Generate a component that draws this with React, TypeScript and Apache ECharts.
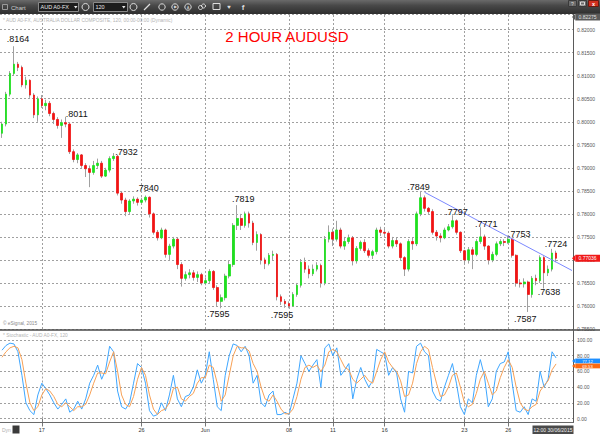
import React, { useEffect, useRef } from 'react';
import * as echarts from 'echarts';

// ---------- DATA ----------
const opens = [
  0.7975, 0.7995, 0.8060, 0.8105, 0.8125, 0.8118, 0.8080, 0.8090, 0.8058, 0.8015,
  0.8050, 0.8035, 0.8040, 0.8018, 0.8005, 0.7992, 0.7998, 0.7995, 0.7935, 0.7918,
  0.7928, 0.7905, 0.7898, 0.7890, 0.7905, 0.7910, 0.7882, 0.7895, 0.7920, 0.7925,
  0.7845, 0.7830, 0.7805, 0.7828, 0.7832, 0.7825, 0.7830, 0.7836, 0.7800, 0.7760,
  0.7748, 0.7765, 0.7712, 0.7730, 0.7745, 0.7690, 0.7660, 0.7668, 0.7672, 0.7662,
  0.7668, 0.7650, 0.7655, 0.7675, 0.7640, 0.7610, 0.7618, 0.7665, 0.7690, 0.7775,
  0.7790, 0.7775, 0.7800, 0.7780, 0.7738, 0.7755, 0.7700, 0.7692, 0.7710, 0.7712,
  0.7620, 0.7610, 0.7605, 0.7600, 0.7625, 0.7645, 0.7695, 0.7680, 0.7670, 0.7680,
  0.7688, 0.7650, 0.7745, 0.7760, 0.7745, 0.7765, 0.7730, 0.7740, 0.7748, 0.7698,
  0.7725, 0.7738, 0.7720, 0.7710, 0.7718, 0.7765, 0.7760, 0.7758, 0.7730, 0.7742,
  0.7735, 0.7705, 0.7680, 0.7740, 0.7735, 0.7800, 0.7835, 0.7812, 0.7805, 0.7760,
  0.7752, 0.7748, 0.7765, 0.7772, 0.7785, 0.7760, 0.7720, 0.7700, 0.7722, 0.7712,
  0.7740, 0.7750, 0.7730, 0.7700, 0.7712, 0.7735, 0.7740, 0.7738, 0.7745, 0.7710,
  0.7650, 0.7648, 0.7652, 0.7625, 0.7660, 0.7655, 0.7705, 0.7672, 0.7680, 0.7715,
];
const closes = [
  0.7995, 0.8060, 0.8105, 0.8125, 0.8118, 0.8080, 0.8090, 0.8058, 0.8015, 0.8050,
  0.8035, 0.8040, 0.8018, 0.8005, 0.7992, 0.7998, 0.7995, 0.7935, 0.7918, 0.7928,
  0.7905, 0.7898, 0.7890, 0.7905, 0.7910, 0.7882, 0.7895, 0.7920, 0.7925, 0.7845,
  0.7830, 0.7805, 0.7828, 0.7832, 0.7825, 0.7830, 0.7836, 0.7800, 0.7760, 0.7748,
  0.7765, 0.7712, 0.7730, 0.7745, 0.7690, 0.7660, 0.7668, 0.7672, 0.7662, 0.7668,
  0.7650, 0.7655, 0.7675, 0.7640, 0.7610, 0.7618, 0.7665, 0.7690, 0.7775, 0.7790,
  0.7775, 0.7800, 0.7780, 0.7738, 0.7755, 0.7700, 0.7692, 0.7710, 0.7712, 0.7620,
  0.7610, 0.7605, 0.7600, 0.7625, 0.7645, 0.7695, 0.7680, 0.7670, 0.7680, 0.7688,
  0.7650, 0.7745, 0.7760, 0.7745, 0.7765, 0.7730, 0.7740, 0.7748, 0.7698, 0.7725,
  0.7738, 0.7720, 0.7710, 0.7718, 0.7765, 0.7760, 0.7758, 0.7730, 0.7742, 0.7735,
  0.7705, 0.7680, 0.7740, 0.7735, 0.7800, 0.7835, 0.7812, 0.7805, 0.7760, 0.7752,
  0.7748, 0.7765, 0.7772, 0.7785, 0.7760, 0.7720, 0.7700, 0.7722, 0.7712, 0.7740,
  0.7750, 0.7730, 0.7700, 0.7712, 0.7735, 0.7740, 0.7738, 0.7745, 0.7710, 0.7650,
  0.7648, 0.7652, 0.7625, 0.7660, 0.7655, 0.7705, 0.7672, 0.7680, 0.7715, 0.77036,
];
const highs = [
  0.8000, 0.8065, 0.8110, 0.8164, 0.8130, 0.8122, 0.8098, 0.8092, 0.8062, 0.8055,
  0.8058, 0.8048, 0.8045, 0.8022, 0.8010, 0.8005, 0.8011, 0.7998, 0.7940, 0.7932,
  0.7930, 0.7910, 0.7905, 0.7915, 0.7920, 0.7915, 0.7900, 0.7925, 0.7932, 0.7928,
  0.7848, 0.7835, 0.7832, 0.7838, 0.7836, 0.7835, 0.7840, 0.7838, 0.7803, 0.7765,
  0.7770, 0.7768, 0.7735, 0.7750, 0.7748, 0.7695, 0.7675, 0.7680, 0.7678, 0.7675,
  0.7672, 0.7662, 0.7680, 0.7678, 0.7645, 0.7625, 0.7670, 0.7698, 0.7780, 0.7819,
  0.7800, 0.7805, 0.7805, 0.7785, 0.7762, 0.7758, 0.7705, 0.7715, 0.7720, 0.7715,
  0.7625, 0.7615, 0.7610, 0.7630, 0.7650, 0.7702, 0.7705, 0.7688, 0.7690, 0.7695,
  0.7692, 0.7752, 0.7775, 0.7768, 0.7785, 0.7770, 0.7750, 0.7755, 0.7752, 0.7730,
  0.7742, 0.7745, 0.7725, 0.7722, 0.7770, 0.7772, 0.7768, 0.7762, 0.7750, 0.7748,
  0.7738, 0.7708, 0.7745, 0.7748, 0.7805, 0.7849, 0.7840, 0.7815, 0.7810, 0.7765,
  0.7758, 0.7770, 0.7778, 0.7797, 0.7788, 0.7762, 0.7722, 0.7728, 0.7728, 0.7745,
  0.7771, 0.7755, 0.7732, 0.7718, 0.7740, 0.7745, 0.7745, 0.7753, 0.7748, 0.7712,
  0.7658, 0.7660, 0.7655, 0.7665, 0.7668, 0.7710, 0.7708, 0.7688, 0.7724, 0.7720,
];
const lows = [
  0.7965, 0.7990, 0.8055, 0.8100, 0.8110, 0.8075, 0.8072, 0.8052, 0.8008, 0.8000,
  0.8030, 0.8025, 0.8012, 0.7995, 0.7985, 0.7965, 0.7988, 0.7930, 0.7912, 0.7910,
  0.7900, 0.7880, 0.7858, 0.7885, 0.7900, 0.7878, 0.7880, 0.7890, 0.7915, 0.7840,
  0.7822, 0.7795, 0.7800, 0.7822, 0.7818, 0.7820, 0.7825, 0.7792, 0.7755, 0.7742,
  0.7745, 0.7705, 0.7700, 0.7725, 0.7680, 0.7642, 0.7655, 0.7660, 0.7655, 0.7652,
  0.7645, 0.7645, 0.7650, 0.7635, 0.7600, 0.7595, 0.7612, 0.7660, 0.7685, 0.7765,
  0.7765, 0.7770, 0.7770, 0.7732, 0.7720, 0.7690, 0.7680, 0.7688, 0.7700, 0.7612,
  0.7602, 0.7596, 0.7595, 0.7598, 0.7620, 0.7640, 0.7672, 0.7660, 0.7665, 0.7675,
  0.7640, 0.7645, 0.7738, 0.7730, 0.7740, 0.7725, 0.7722, 0.7735, 0.7688, 0.7692,
  0.7720, 0.7715, 0.7705, 0.7702, 0.7712, 0.7752, 0.7748, 0.7725, 0.7725, 0.7728,
  0.7698, 0.7665, 0.7675, 0.7722, 0.7730, 0.7795, 0.7805, 0.7800, 0.7755, 0.7742,
  0.7738, 0.7745, 0.7762, 0.7768, 0.7755, 0.7715, 0.7690, 0.7692, 0.7680, 0.7708,
  0.7735, 0.7722, 0.7690, 0.7695, 0.7708, 0.7730, 0.7730, 0.7735, 0.7705, 0.7642,
  0.7640, 0.7640, 0.7587, 0.7618, 0.7645, 0.7650, 0.7638, 0.7665, 0.7675, 0.7695,
];
const stochK = [
  87, 93, 96, 95, 85, 55, 20, 10, 5, 30,
  45, 38, 30, 20, 12, 18, 25, 8, 12, 22,
  12, 25, 45, 55, 68, 50, 62, 92, 85, 35,
  15, 12, 20, 45, 70, 65, 45, 10, 3, 5,
  20, 10, 30, 55, 25, 15, 28, 30, 40, 62,
  45, 55, 85, 50, 15, 10, 55, 80, 95, 93,
  85, 92, 80, 45, 55, 20, 15, 30, 35, 5,
  5, 8, 5, 25, 45, 80, 70, 60, 68, 75,
  40, 90, 95, 80, 90, 55, 62, 70, 25, 50,
  65, 50, 40, 48, 88, 85, 82, 55, 65, 58,
  25, 8, 60, 58, 92, 96, 85, 80, 35, 25,
  22, 40, 55, 70, 45, 15, 5, 25, 20, 55,
  75, 55, 15, 25, 60, 70, 72, 85, 45, 10,
  8, 15, 5, 25, 22, 60, 40, 50, 85, 77.12,
];
const stochD = [
  78, 85, 90, 92, 90, 75, 45, 20, 10, 15,
  30, 38, 35, 28, 18, 15, 20, 15, 10, 15,
  15, 18, 30, 45, 58, 58, 57, 72, 85, 60,
  30, 18, 15, 28, 50, 65, 55, 30, 12, 5,
  10, 12, 20, 38, 40, 25, 22, 28, 32, 45,
  52, 52, 68, 65, 45, 22, 30, 55, 80, 92,
  90, 90, 86, 70, 60, 40, 25, 22, 30, 22,
  12, 6, 6, 12, 28, 50, 65, 68, 65, 68,
  60, 68, 85, 88, 85, 75, 65, 62, 50, 45,
  50, 55, 48, 45, 60, 75, 85, 72, 65, 60,
  48, 28, 30, 45, 70, 85, 92, 88, 65, 45,
  28, 30, 40, 55, 58, 40, 20, 15, 18, 32,
  50, 60, 45, 30, 35, 52, 65, 75, 65, 40,
  20, 12, 10, 15, 18, 35, 42, 48, 62, 69.53,
];
const TOTAL_SLOTS = 144;
const dateTicks = [
  { idx: 10, label: '17' },
  { idx: 35, label: '26' },
  { idx: 51, label: 'Jun' },
  { idx: 72, label: '08' },
  { idx: 83, label: '11' },
  { idx: 96, label: '16' },
  { idx: 116, label: '23' },
  { idx: 127, label: '26' },
];
const pivots = [
  { idx: 3, value: 0.8164 },
  { idx: 16, value: 0.8011 },
  { idx: 28, value: 0.7932 },
  { idx: 36, value: 0.7840 },
  { idx: 59, value: 0.7819 },
  { idx: 55, value: 0.7595 },
  { idx: 72, value: 0.7595 },
  { idx: 105, value: 0.7849 },
  { idx: 113, value: 0.7797 },
  { idx: 120, value: 0.7771 },
  { idx: 127, value: 0.7753 },
  { idx: 138, value: 0.7724 },
  { idx: 136, value: 0.7638 },
  { idx: 132, value: 0.7587 },
];
const trendLine = [
  { idx: 106, value: 0.7847 },
  { idx: 143, value: 0.7677 },
];
const lastPrice = 0.77036;
const topPrice = 0.82275;
const priceMin = 0.755;
const priceMax = 0.8234;
const titleText = '2 HOUR AUDUSD';
const infoText = '* AUD A0-FX, AUSTRALIA DOLLAR COMPOSITE, 120, 00:00-00:00 (Dynamic)';
const stochText = '* Stochastic - AUD A0-FX, 120';
const copyrightText = '\u00A9 eSignal, 2015';
const timestampText = '12:00 30/06/2015';

// ---------- STYLE ----------
const pivotOffsets: number[][] = [
  [4, -7], [11, -3], [13, -1], [2, -7], [6, -6], [-3, 6], [-7, 7],
  [-2, -4], [4, -3], [6, -3], [11, -2], [4, -5], [5, 4], [-3, 7],
];
const FONT = '"Liberation Sans", Arial, sans-serif';
const GREEN = '#1ee01e';
const RED = '#f01414';
const WICK = '#a0a0a0';
const GRIDC = '#a0a0a0';

const cats = Array.from({ length: TOTAL_SLOTS }, (_, i) => String(i));
const tickMap = new Map(dateTicks.map((t) => [t.idx, t.label]));

function buildOption(): any {
  const wickData = opens.map((o, i) => [o, closes[i], lows[i], highs[i]]);
  const bodyData = opens.map((o, i) => [
    o,
    closes[i],
    Math.min(o, closes[i]),
    Math.max(o, closes[i]),
  ]);
  const vLines = dateTicks.map((t) => ({ xAxis: String(t.idx) }));
  const dashed = { color: GRIDC, type: [2, 2], width: 1 };
  return {
    animation: false,
    backgroundColor: '#ffffff',
    textStyle: { fontFamily: FONT },
    grid: [
      { left: 0, right: 26, top: 14, height: 315 },
      { left: 0, right: 26, top: 340, height: 78.5 },
    ],
    xAxis: [
      {
        type: 'category', gridIndex: 0, data: cats, boundaryGap: true,
        axisLine: { show: false }, axisTick: { show: false },
        axisLabel: { show: false }, splitLine: { show: false },
      },
      {
        type: 'category', gridIndex: 1, data: cats, boundaryGap: true,
        axisLine: { show: false },
        axisTick: {
          show: true, alignWithLabel: true, length: 8,
          interval: (i: number) => tickMap.has(i),
          lineStyle: { color: '#777' },
        },
        axisLabel: {
          show: true, interval: (i: number) => tickMap.has(i),
          formatter: (_v: string, i: number) => tickMap.get(i) ?? '',
          fontSize: 5.5, color: '#333', margin: 8, fontFamily: FONT,
        },
        splitLine: { show: false },
      },
    ],
    yAxis: [
      {
        type: 'value', gridIndex: 0, position: 'right', min: priceMin, max: priceMax,
        interval: 0.005,
        axisLine: { show: false }, axisTick: { show: false },
        axisLabel: {
          fontSize: 5, color: '#555', margin: 3, fontFamily: FONT,
          formatter: (v: number) => {
            const k = Math.round(v / 0.005);
            return Math.abs(v - k * 0.005) < 1e-7 ? v.toFixed(5) : '';
          },
        },
        splitLine: { lineStyle: dashed },
      },
      {
        type: 'value', gridIndex: 1, position: 'right', min: 0, max: 100, interval: 20,
        axisLine: { show: false }, axisTick: { show: false },
        axisLabel: {
          fontSize: 5, color: '#555', margin: 3, fontFamily: FONT,
          formatter: (v: number) => v.toFixed(2),
        },
        splitLine: { lineStyle: dashed },
      },
    ],
    series: [
      {
        type: 'candlestick', xAxisIndex: 0, yAxisIndex: 0, data: wickData,
        barWidth: 1, z: 2,
        itemStyle: {
          color: WICK, color0: WICK, borderColor: WICK, borderColor0: WICK,
          borderColorDoji: WICK, borderWidth: 1,
        },
        markLine: {
          silent: true, z: 1, symbol: ['none', 'none'], label: { show: false },
          lineStyle: dashed, data: vLines,
        },
      },
      {
        type: 'candlestick', xAxisIndex: 0, yAxisIndex: 0, data: bodyData,
        barWidth: 2.2, z: 3,
        itemStyle: {
          color: GREEN, color0: RED, borderColor: GREEN, borderColor0: RED,
          borderColorDoji: RED, borderWidth: 0.8,
        },
        markLine: {
          silent: true, symbol: ['none', 'none'], label: { show: false },
          lineStyle: { color: '#7b88ff', type: 'solid', width: 1 },
          data: [[
            { coord: [String(trendLine[0].idx), trendLine[0].value] },
            { coord: [String(trendLine[1].idx), trendLine[1].value] },
          ]],
        },
      },
      {
        type: 'line', xAxisIndex: 1, yAxisIndex: 1, data: stochK, symbol: 'none',
        lineStyle: { color: '#3ea6ff', width: 1 }, z: 3,
        markLine: {
          silent: true, z: 1, symbol: ['none', 'none'], label: { show: false },
          lineStyle: dashed, data: vLines,
        },
      },
      {
        type: 'line', xAxisIndex: 1, yAxisIndex: 1, data: stochD, symbol: 'none',
        lineStyle: { color: '#f7a055', width: 1 }, z: 4,
      },
    ],
  };
}

function buildGraphics(chart: any): any[] {
  const els: any[] = [];
  const T = (x: number, y: number, text: string, size: number, fill: string,
    align = 'left', valign = 'middle', weight = 'normal') => ({
    type: 'text', x, y, z: 101, silent: true,
    style: {
      text, fill, font: `${weight} ${size}px ${FONT}`,
      textAlign: align, textVerticalAlign: valign, align, verticalAlign: valign,
    },
  });
  const R = (x: number, y: number, w: number, h: number, fill: any, stroke = 'none', lw = 1) => ({
    type: 'rect', z: 100, silent: true, shape: { x, y, width: w, height: h },
    style: { fill, stroke, lineWidth: lw },
  });
  const L = (x1: number, y1: number, x2: number, y2: number, stroke: string, lw = 1) => ({
    type: 'line', z: 100, silent: true, shape: { x1, y1, x2, y2 },
    style: { stroke, lineWidth: lw },
  });
  const C = (cx: number, cy: number, r: number, stroke: string) => ({
    type: 'circle', z: 101, silent: true, shape: { cx, cy, r },
    style: { fill: 'none', stroke, lineWidth: 1 },
  });
  const P = (pts: number[][], fill: string) => ({
    type: 'polygon', z: 101, silent: true, shape: { points: pts }, style: { fill },
  });

  // toolbar
  els.push(R(0, 0, 600, 14, new echarts.graphic.LinearGradient(0, 0, 0, 1, [
    { offset: 0, color: '#6a6a6a' }, { offset: 0.4, color: '#484848' }, { offset: 1, color: '#2e2e2e' },
  ])));
  els.push(R(2.5, 4.5, 5, 5, 'none', '#9a9a9a'));
  els.push(T(11, 7.5, 'Chart', 6, '#cfcfcf'));
  els.push(R(38.5, 2.5, 40, 9, '#1c1c1c', '#8a8a8a'));
  els.push(T(40.5, 7.2, 'AUD A0-FX', 5.5, '#e8e8e8'));
  els.push(P([[74, 6], [77.5, 6], [75.75, 8.5]], '#e8e8e8'));
  els.push(C(85.5, 7, 3.5, '#dddddd'));
  els.push(R(93.5, 2.5, 34, 9, '#1c1c1c', '#8a8a8a'));
  els.push(T(95.5, 7.2, '120', 5.5, '#e8e8e8'));
  els.push(P([[122, 6], [125.5, 6], [123.75, 8.5]], '#e8e8e8'));
  els.push(C(133.5, 7, 3.5, '#dddddd'));
  els.push(L(144, 10, 150, 4, '#dddddd', 1.3));
  [162, 175, 188].forEach((cx) => els.push(C(cx, 7, 3.2, '#dddddd')));
  els.push(T(175.3, 7.2, '\u25B6', 3.5, '#dddddd', 'center'));
  els.push(T(188, 7.2, 'A', 4, '#dddddd', 'center'));
  els.push(C(200.5, 7.5, 2, '#dddddd'));
  els.push(C(203.5, 6, 2, '#dddddd'));
  els.push(R(213, 3.5, 7, 6, 'none', '#dddddd'));
  els.push(T(229, 7.3, '\u2665', 6, '#dddddd', 'center'));
  els.push(T(243, 7.5, 'f', 8, '#dddddd', 'center', 'middle', 'bold'));
  // window buttons
  els.push(R(568.5, 0.5, 8, 6, '#6a6a6a', '#3a3a3a'));
  els.push(T(572.5, 3.6, '?', 5, '#dddddd', 'center'));
  els.push(R(578.5, 0.5, 8, 6, '#6a6a6a', '#3a3a3a'));
  els.push(R(580.5, 2, 4, 3, 'none', '#dddddd'));
  els.push(R(588.5, 0.5, 10, 6, '#d03020', '#6a1a10'));
  els.push(T(593.5, 3.6, 'x', 5.5, '#ffffff', 'center', 'middle', 'bold'));

  // info texts
  els.push(T(3, 20.5, infoText, 4.8, '#b4b4b4'));
  els.push(T(3, 323.5, copyrightText, 4.8, '#8a8a8a'));
  els.push(T(3, 335.5, stochText, 4.8, '#b4b4b4'));

  // frame lines
  els.push(L(0, 330, 600, 330, '#4a4a4a', 1.5));
  els.push(L(573.5, 14, 573.5, 422, '#5a5a5a', 1));
  els.push(L(0, 422.5, 574, 422.5, '#6a6a6a', 1));

  // title
  els.push(T(287, 36.5, titleText, 15, '#ff0000', 'center'));

  // pivot labels
  pivots.forEach((p, i) => {
    const pt = chart.convertToPixel({ xAxisIndex: 0, yAxisIndex: 0 }, [String(p.idx), p.value]);
    const off = pivotOffsets[i] || [0, 0];
    const txt = '.' + p.value.toFixed(4).slice(2);
    els.push(T(pt[0] + off[0], pt[1] + off[1], txt, 9, '#111111', 'center'));
  });

  // right tags
  const tag = (y: number, text: string, fill: string, tc: string, h = 7, fs = 5) => {
    els.push(P([[572, y], [575.5, y - h / 2], [575.5, y + h / 2]], fill));
    els.push(R(575.5, y - h / 2, 24.5, h, fill));
    els.push(T(587.5, y + 0.2, text, fs, tc, 'center'));
  };
  const yTop = chart.convertToPixel({ yAxisIndex: 0 }, topPrice);
  tag(yTop, topPrice.toFixed(5), '#5a5a5a', '#e0e0e0');
  const yLast = chart.convertToPixel({ yAxisIndex: 0 }, lastPrice);
  tag(yLast, lastPrice.toFixed(5), '#f01818', '#ffffff');
  const kLast = stochK[stochK.length - 1];
  const dLast = stochD[stochD.length - 1];
  const yK = chart.convertToPixel({ yAxisIndex: 1 }, kLast) + 3;
  const yD = Math.max(chart.convertToPixel({ yAxisIndex: 1 }, dLast) + 1, yK + 5);
  tag(yK, kLast.toFixed(2), '#1e8fff', '#ffffff', 4.8, 4.2);
  tag(yD, dLast.toFixed(2), '#ff6a10', '#ffffff', 4.8, 4.2);

  // bottom bar
  els.push(T(2, 429.5, 'Dyn', 5, '#b0b0b0'));
  els.push(R(12.5, 425.5, 7, 8, '#3a3a3a'));
  els.push(R(532.5, 425.5, 41, 8.5, '#4a4a4a'));
  els.push(T(553, 429.8, timestampText, 5, '#f0f0f0', 'center'));
  return els;
}

export default function App() {
  const ref = useRef<HTMLDivElement>(null);
  useEffect(() => {
    if (!ref.current) return;
    const chart = echarts.init(ref.current, null, { renderer: 'svg' });
    chart.setOption(buildOption());
    chart.setOption({ graphic: { elements: buildGraphics(chart) } });
    return () => chart.dispose();
  }, []);
  return (
    <div
      ref={ref}
      style={{ position: 'fixed', left: 0, top: 0, width: 600, height: 434, background: '#ffffff' }}
    />
  );
}
